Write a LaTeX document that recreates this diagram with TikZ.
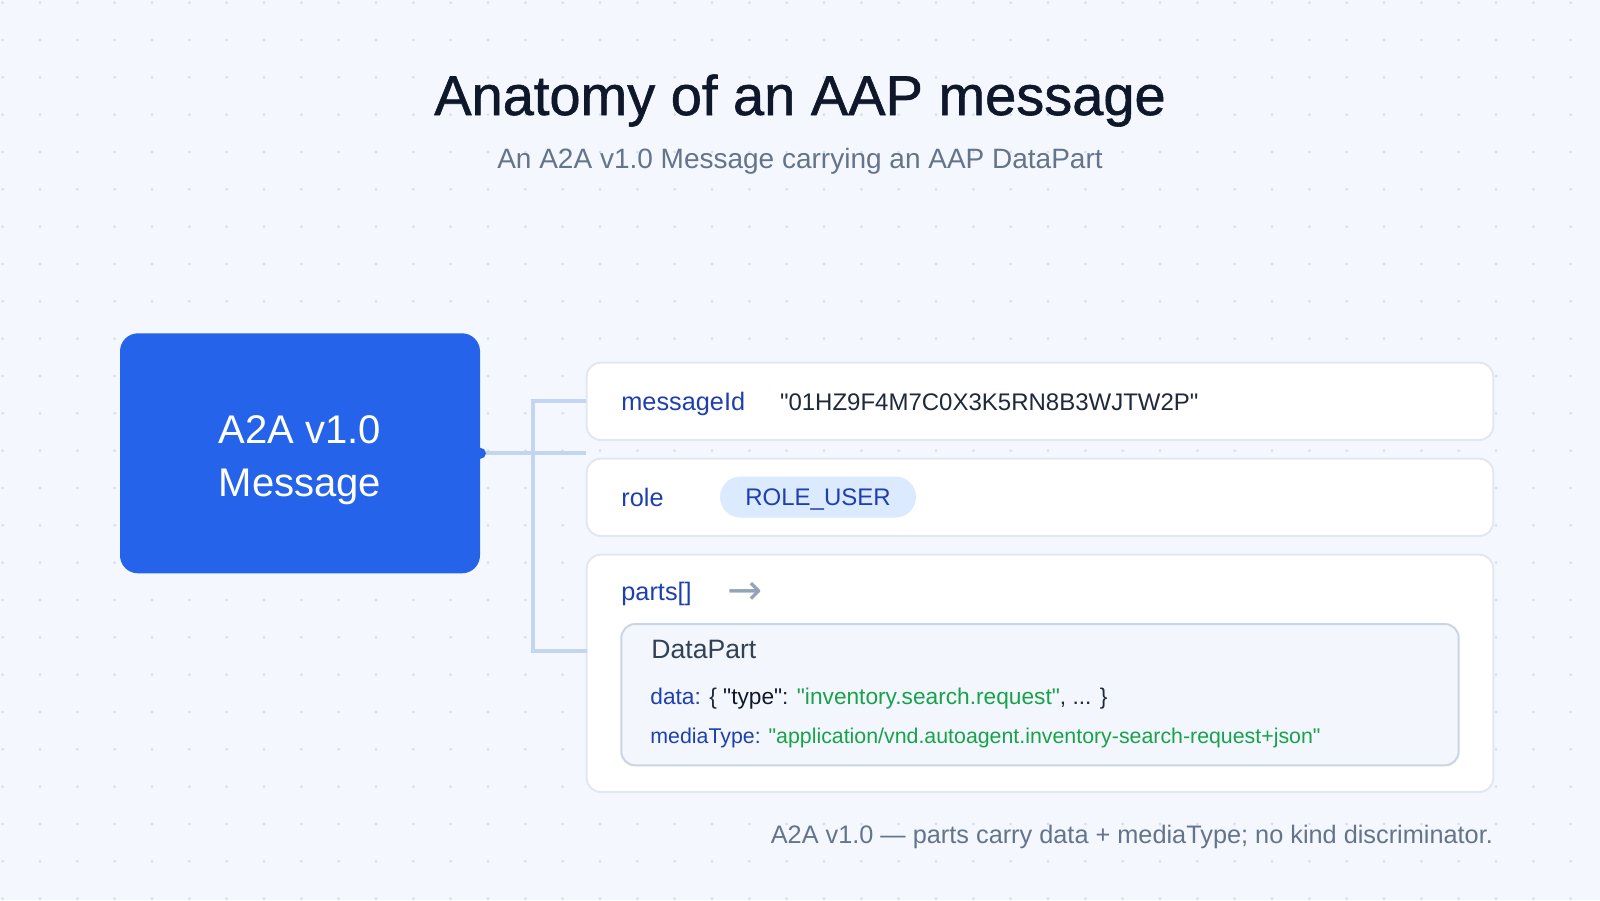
\documentclass[tikz,border=0pt]{standalone}
\usepackage{fontspec}
\setmainfont{Liberation Sans}
\newfontfamily\plainsans{Liberation Sans}
\newfontfamily\titlefont{Liberation Sans}[FakeBold=1.0]
\newfontfamily\arrowfont{DejaVu Sans}
\definecolor{bg}{HTML}{F4F7FE}
\definecolor{dotc}{HTML}{D6DEEE}
\definecolor{navy}{HTML}{0F172A}
\definecolor{slate}{HTML}{64748B}
\definecolor{boxblue}{HTML}{2563EB}
\definecolor{keyblue}{HTML}{1E40AF}
\definecolor{valdark}{HTML}{1E293B}
\definecolor{pillfill}{HTML}{DBEAFE}
\definecolor{rowborder}{HTML}{E2E8F0}
\definecolor{partborder}{HTML}{CBD5E1}
\definecolor{partfill}{HTML}{F3F6FD}
\definecolor{jsongreen}{HTML}{16A34A}
\definecolor{bracketc}{HTML}{C3D5F0}
\definecolor{arrowgrey}{HTML}{94A3B8}
\definecolor{dpdark}{HTML}{334155}
\tikzset{
  rowbox/.style={draw=rowborder, line width=1pt, fill=white, rounded corners=7pt,
    minimum width=453.3pt, inner sep=0pt},
  partbox/.style={draw=partborder, line width=1pt, fill=partfill, rounded corners=7pt,
    minimum width=418.7pt, minimum height=70.7pt, inner sep=0pt},
  msgbox/.style={fill=boxblue, rounded corners=9pt, minimum width=180pt, minimum height=120pt, inner sep=0pt},
  msgtext/.style={text=white, font=\plainsans\fontsize{20}{24}\selectfont, anchor=base, inner sep=0pt},
  keytext/.style={text=keyblue, font=\plainsans\fontsize{12.65}{15}\selectfont, anchor=base west, inner sep=0pt},
  valtext/.style={text=valdark, font=\plainsans\fontsize{12}{14}\selectfont, anchor=base west, inner sep=0pt},
  pill/.style={fill=pillfill, rounded corners=10.25pt, minimum width=98pt, minimum height=20.5pt,
    text=keyblue, font=\plainsans\fontsize{12}{14}\selectfont, text height=8.6pt, text depth=0pt, inner sep=0pt},
  bracket/.style={draw=bracketc, line width=2pt},
}
\begin{document}
\plainsans
\begin{tikzpicture}[x=0.5pt,y=-0.5pt]
\fill[bg] (0,0) rectangle (1600,900);
\useasboundingbox (0,0) rectangle (1600,900);
\foreach \i in {0,...,42}{
  \foreach \j in {0,...,24}{
    \fill[dotc] ({2.667+37.333*\i},{2.667+37.333*\j}) circle (1.5);
  }
}
% title
\node[anchor=base, inner sep=0pt, text=navy, font=\titlefont\fontsize{28}{32}\selectfont] (title) at (800,115) {Anatomy of an AAP message};
\node[anchor=base, inner sep=0pt, text=slate, font=\plainsans\fontsize{14}{17}\selectfont] (subtitle) at (800,168) {An A2A v1.0 Message carrying an AAP DataPart};

% rows
\node[rowbox, minimum height=38.67pt] (row1) at (1040,401.3) {};
\node[rowbox, minimum height=38.67pt] (row2) at (1040,497.3) {};
\node[rowbox, minimum height=118.67pt] (row3) at (1040,673.3) {};
\node[partbox] (datapart) at (1040,694.7) {};

% connectors
\node[msgbox] (msg) at (300,453.3) {};
\coordinate (bend) at (533.3,650.7);
\coordinate (pb) at (586.7,650.7);
\draw[bracket] (row1.west) -| (bend) -- (pb);
\draw[bracket] (msg.east) -- (msg.east -| row1.west);
\fill[boxblue] (msg.east) circle (5.5);
\node[msgtext] (msgl1) at (300,443) {A2A v1.0};
\node[msgtext] (msgl2) at (300,496) {Message};

% row 1
\node[keytext] (k1) at (621,410) {messageId};
\node[valtext] (v1) at (779.6,410) {"01HZ9F4M7C0X3K5RN8B3WJTW2P"};
% row 2
\node[keytext] (k2) at (621,506) {role};
\node[pill] (v2) at (818,497) {ROLE\_USER};
% row 3
\node[keytext] (k3) at (621,600) {parts[]};
\node[anchor=base west, inner sep=0pt, text=arrowgrey, font=\arrowfont\fontsize{21}{24}\selectfont] (arr) at (727,604) {→};
\node[anchor=base west, inner sep=0pt, text=dpdark, font=\plainsans\fontsize{13.3}{16}\selectfont] (dptitle) at (651,658) {DataPart};
\node[anchor=base west, inner sep=0pt, font=\plainsans\fontsize{11.35}{14}\selectfont] (dataline) at (650,704)
  {\textcolor{keyblue}{data:} \textcolor{valdark}{\{} \textcolor{navy}{"type"}\textcolor{valdark}{:} \textcolor{jsongreen}{"inventory.search.request"}\textcolor{valdark}{, ... \}}};
\node[anchor=base west, inner sep=0pt, font=\plainsans\fontsize{10.67}{13}\selectfont] (mediline) at (650,743)
  {\textcolor{keyblue}{mediaType:} \textcolor{jsongreen}{"application/vnd.autoagent.inventory-search-request+json"}};

% footer
\node[anchor=base east, inner sep=0pt, text=slate, font=\plainsans\fontsize{12.65}{15}\selectfont] (footer) at (1493.3,843) {A2A v1.0 — parts carry data + mediaType; no kind discriminator.};
\end{tikzpicture}
\end{document}
